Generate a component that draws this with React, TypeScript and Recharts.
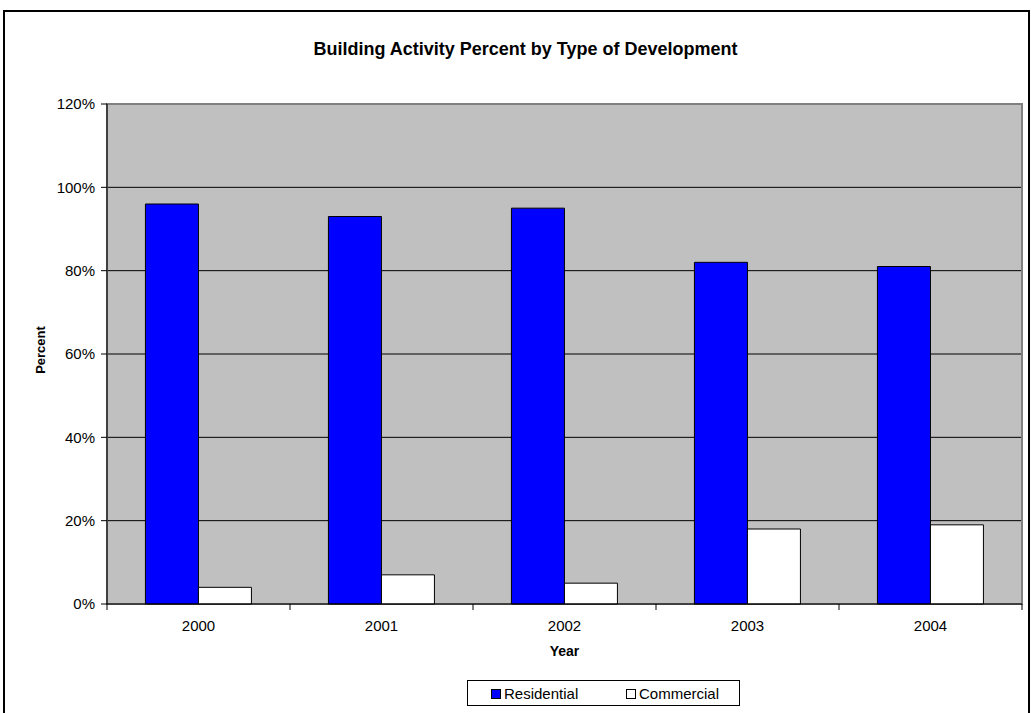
import { BarChart, Bar, XAxis, YAxis, CartesianGrid, ReferenceArea } from 'recharts';

const years = ['2000', '2001', '2002', '2003', '2004'];
const residential = [0.96, 0.93, 0.95, 0.82, 0.81];
const commercial = [0.04, 0.07, 0.05, 0.18, 0.19];
const yTicks = [0, 0.2, 0.4, 0.6, 0.8, 1.0, 1.2];

const FONT = '"Liberation Sans", Arial, sans-serif';

const series = [
  { key: 'residential', name: 'Residential', color: '#0000FF' },
  { key: 'commercial', name: 'Commercial', color: '#FFFFFF' },
];

const data = years.map((year, i) => ({
  year,
  residential: residential[i],
  commercial: commercial[i],
}));

const X_TICK_SIZE = 6;
const X_TICK_MARGIN = 10;

// category labels centred, tick marks on the boundaries between years
function YearTick(props: any) {
  const { x, y, payload, index } = props;
  const half = payload.offset ?? 0;
  const top = y - X_TICK_SIZE - X_TICK_MARGIN;
  return (
    <g>
      <line x1={x - half} x2={x - half} y1={top} y2={top + X_TICK_SIZE} stroke="#000" />
      {index === years.length - 1 && (
        <line x1={x + half} x2={x + half} y1={top} y2={top + X_TICK_SIZE} stroke="#000" />
      )}
      <text x={x} y={y} dy="0.71em" textAnchor="middle" fill="#000" fontSize={15} fontFamily={FONT}>
        {payload.value}
      </text>
    </g>
  );
}

export default function App() {
  return (
    <div style={{ position: 'fixed', left: 0, top: 0, width: 1031, height: 713, overflow: 'hidden', background: '#fff' }}>
      <div
        style={{
          position: 'absolute',
          left: 0,
          width: 1051,
          top: 39,
          textAlign: 'center',
          fontFamily: FONT,
          fontWeight: 'bold',
          fontSize: 18,
        }}
      >
        Building Activity Percent by Type of Development
      </div>
      <div
        style={{
          position: 'absolute',
          left: 40,
          top: 350,
          transform: 'translate(-50%, -50%) rotate(-90deg)',
          fontFamily: FONT,
          fontWeight: 'bold',
          fontSize: 13,
          whiteSpace: 'nowrap',
        }}
      >
        Percent
      </div>
      <div
        style={{
          position: 'absolute',
          left: 0,
          width: 1129,
          top: 643,
          textAlign: 'center',
          fontFamily: FONT,
          fontWeight: 'bold',
          fontSize: 14,
        }}
      >
        Year
      </div>
      <div style={{ position: 'absolute', left: 0, top: 0 }}>
        <BarChart
          width={1031}
          height={713}
          data={data}
          margin={{ top: 104, right: 9, left: 0, bottom: 79 }}
          barCategoryGap="21%"
          barGap={0}
        >
          <CartesianGrid
            vertical={false}
            stroke="#000"
            fill="#C0C0C0"
            fillOpacity={1}
            horizontalValues={[0.2, 0.4, 0.6, 0.8, 1.0]}
          />
          <ReferenceArea y1={0} y2={1.2} fill="none" stroke="#808080" strokeWidth={2} ifOverflow="visible" />
          <XAxis
            dataKey="year"
            height={30}
            axisLine={{ stroke: '#000' }}
            tickLine={false}
            tickSize={X_TICK_SIZE}
            tickMargin={X_TICK_MARGIN}
            tick={<YearTick />}
          />
          <YAxis
            width={107}
            domain={[0, 1.2]}
            ticks={yTicks}
            interval={0}
            tickFormatter={(v: number) => `${Math.round(v * 100)}%`}
            axisLine={{ stroke: '#000' }}
            tickLine={{ stroke: '#000' }}
            tickSize={6}
            tickMargin={6}
            tick={{ fill: '#000', fontSize: 15, fontFamily: FONT }}
          />
          {series.map((s) => (
            <Bar
              key={s.key}
              dataKey={s.key}
              name={s.name}
              fill={s.color}
              stroke="#000"
              strokeWidth={1}
              isAnimationActive={false}
            />
          ))}
        </BarChart>
      </div>
      <div
        style={{
          position: 'absolute',
          left: 467,
          top: 680,
          width: 271,
          height: 24,
          border: '1px solid #000',
          background: '#fff',
          fontFamily: FONT,
          fontSize: 15,
        }}
      >
        {series.map((s, i) => (
          <div
            key={s.key}
            style={{
              position: 'absolute',
              left: i === 0 ? 23 : 158,
              top: 4,
              display: 'flex',
              alignItems: 'center',
              whiteSpace: 'nowrap',
            }}
          >
            <span
              style={{
                display: 'inline-block',
                width: 8,
                height: 8,
                border: '1px solid #000',
                background: s.color,
                marginRight: 3,
              }}
            />
            {s.name}
          </div>
        ))}
      </div>
      <svg
        width={1031}
        height={713}
        style={{ position: 'absolute', left: 0, top: 0, pointerEvents: 'none' }}
      >
        <rect x={4} y={11} width={1025} height={720} fill="none" stroke="#000" strokeWidth={2} />
      </svg>
    </div>
  );
}
